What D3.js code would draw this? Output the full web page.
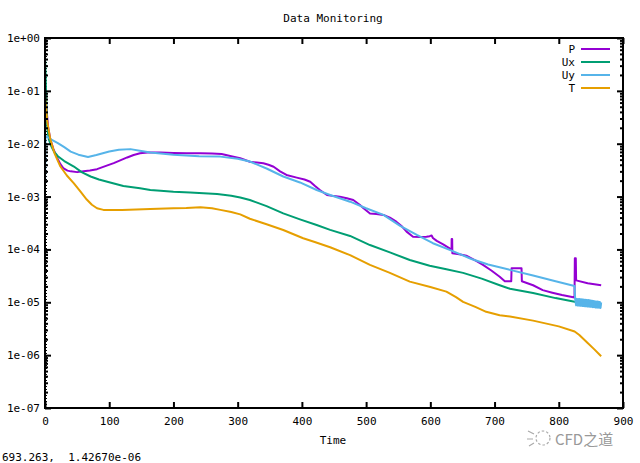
<!DOCTYPE html>
<html>
<head>
<meta charset="utf-8">
<script src="https://cdn.jsdelivr.net/npm/d3@7"></script>
<style>
html,body{margin:0;padding:0;background:#fff;}
svg{display:block;}
text{font-family:"DejaVu Sans Mono","Liberation Mono",monospace;font-size:11px;fill:#000;white-space:pre;}
</style>
</head>
<body>
<svg id="chart" width="640" height="463"></svg>
<script>
// ---------------- data ----------------
const chartTitle = "Data Monitoring";
const xLabel = "Time";
const statusText = "693.263,  1.42670e-06";
const seriesNames = ["P", "Ux", "Uy", "T"];
const seriesColors = ["#9400d3", "#009e73", "#56b4e9", "#e69f00"];
const xTicks = [0, 100, 200, 300, 400, 500, 600, 700, 800, 900];
const yTicks = [1e-7, 1e-6, 1e-5, 1e-4, 1e-3, 1e-2, 1e-1, 1];
const yTickLabels = ["1e-07", "1e-06", "1e-05", "1e-04", "1e-03", "1e-02", "1e-01", "1e+00"];

const pData = [[0,0.12],[2,0.05],[5,0.02],[8.5,0.0118],[13,0.008],[19,0.0054],[24,0.0041],[29,0.0034],[35,0.0031],[40,0.0030],[50,0.0029],[60,0.0030],[70,0.0031],[81,0.0033],[95,0.0038],[107,0.0043],[118,0.0049],[128,0.0055],[138,0.0061],[148,0.0066],[160,0.0068],[180,0.0068],[200,0.0067],[220,0.0066],[242,0.0066],[260,0.0065],[275,0.0064],[290,0.0058],[304,0.0053],[319,0.00457],[330,0.0044],[340,0.00426],[348,0.0040],[356,0.00367],[366,0.0030],[376,0.00256],[392,0.00228],[404,0.0021],[413,0.00191],[420,0.0016],[428,0.00133],[439,0.00107],[450,0.00102],[459,0.00099],[470,0.00093],[480,0.00086],[490,0.0007],[496,0.0006],[506,0.00048],[516,0.00047],[527,0.00045],[537,0.0004],[547,0.000335],[556,0.00027],[563,0.000217],[573,0.000174],[585,0.000172],[594,0.000174],[599,0.000178],[602,0.000184],[604,0.000165],[610,0.000145],[620,0.000125],[630,0.000105],[633,0.0001],[633.2,0.000158],[634,0.000158],[634.3,0.000085],[645,0.000081],[656,0.000076],[664,0.000068],[672,0.00006],[682,0.000051],[695,0.00004],[708,0.0000305],[716,0.000025],[726,0.000025],[726.5,0.000044],[742,0.000044],[742.5,0.000025],[760,0.000021],[775,0.000017],[790,0.0000152],[805,0.0000137],[824.5,0.0000123],[825,0.000068],[826.5,0.000068],[827,0.000026],[845,0.000023],[866,0.000021]];

const uxData = [[0,0.45],[1,0.2],[2,0.06],[3.5,0.02],[6,0.012],[10,0.0088],[14,0.0071],[20,0.0058],[30,0.0047],[45,0.0037],[57,0.0029],[71,0.0024],[84,0.0021],[97,0.0019],[122,0.00158],[148,0.00143],[164,0.00133],[180,0.00129],[200,0.00124],[226,0.0012],[268,0.00112],[290,0.00104],[304,0.00096],[319,0.00086],[345,0.00066],[371,0.00048],[397,0.00037],[423,0.00029],[444,0.000234],[475,0.00018],[506,0.000121],[537,0.000088],[568,0.000063],[599,0.000049],[625,0.000042],[651,0.000036],[680,0.000028],[708,0.000021],[724,0.000018],[760,0.000015],[795,0.000012],[824.7,0.0000102],[845,0.0000095],[866,0.0000088]];

const uyData = [[0,0.0015],[0.8,0.014],[4,0.0134],[10,0.012],[20,0.0103],[30,0.0086],[40,0.0071],[52,0.0062],[67,0.0056],[80,0.0061],[100,0.0071],[115,0.0077],[133,0.0079],[150,0.0073],[164,0.0068],[200,0.0062],[240,0.0058],[273,0.0057],[300,0.0052],[319,0.0046],[345,0.0034],[371,0.0024],[397,0.00185],[423,0.00133],[444,0.00107],[475,0.0008],[500,0.0006],[527,0.00045],[553,0.00028],[579,0.000188],[604,0.000131],[635,0.000093],[664,0.000066],[690,0.000052],[724,0.000041],[760,0.000032],[795,0.000025],[824.5,0.0000204],[825.5,0.0000115],
[827,0.0000088],[828,0.0000116],[829,0.0000087],[830,0.0000115],[831,0.0000087],[832,0.0000115],[833,0.0000086],[834,0.0000114],[835,0.0000086],[836,0.0000114],[837,0.0000085],[838,0.0000113],[839,0.0000085],[840,0.0000112],[841,0.0000084],[842,0.0000112],[843,0.0000084],[844,0.0000111],[845,0.0000083],[846,0.0000110],[847,0.0000083],[848,0.0000109],[849,0.0000082],[850,0.0000108],[851,0.0000082],[852,0.0000107],[853,0.0000081],[854,0.0000106],[855,0.0000081],[856,0.0000105],[857,0.0000080],[858,0.0000104],[859,0.0000080],[860,0.0000103],[861,0.0000079],[862,0.0000102],[863,0.0000079],[864,0.0000101],[865,0.0000078],[866,0.0000100]];

const tData = [[0,0.08],[1,0.06],[3,0.03],[5,0.02],[8.5,0.0118],[15,0.0065],[24,0.0037],[34,0.0025],[45,0.00178],[55,0.00125],[65,0.00088],[73,0.0007],[81,0.0006],[91,0.00056],[120,0.00056],[164,0.00058],[200,0.0006],[220,0.00061],[242,0.00063],[260,0.0006],[273,0.00056],[290,0.00051],[304,0.00046],[319,0.00038],[345,0.0003],[371,0.000233],[402,0.000163],[420,0.000138],[444,0.00011],[475,0.000078],[506,0.000051],[537,0.000036],[568,0.0000246],[600,0.0000195],[625,0.0000159],[640,0.0000125],[651,0.0000102],[670,0.0000082],[687,0.0000066],[708,0.0000057],[724,0.0000054],[760,0.0000045],[800,0.0000035],[824.7,0.0000028],[832,0.0000024],[845,0.0000017],[855,0.0000013],[866,0.00000095]];

const allSeries = [pData, uxData, uyData, tData];

// ---------------- layout ----------------
const svg = d3.select("#chart");
const L = 45, R = 623, T = 38, B = 408;
const x = d3.scaleLinear().domain([0, 900]).range([L, R]);
const y = d3.scaleLog().domain([1e-7, 1]).range([B, T]);

// title
svg.append("text").attr("x", 333).attr("y", 22).attr("text-anchor", "middle").text(chartTitle);

// dotted zero axis
svg.append("line").attr("x1", x(0) + 1.5).attr("x2", x(0) + 1.5).attr("y1", T).attr("y2", B)
  .attr("stroke", "#000").attr("stroke-width", 1).attr("stroke-dasharray", "1,2");

// lines
svg.append("clipPath").attr("id", "clip").append("rect")
  .attr("x", L).attr("y", T).attr("width", R - L).attr("height", B - T);
const line = d3.line().x(d => x(d[0])).y(d => y(d[1]));
const g = svg.append("g").attr("clip-path", "url(#clip)");
allSeries.forEach((s, i) => {
  g.append("path").datum(s).attr("d", line).attr("fill", "none")
    .attr("stroke", seriesColors[i]).attr("stroke-width", 2).attr("stroke-linejoin", "round");
});

// axes (inward ticks)
const fmtY = d => yTickLabels[yTicks.indexOf(d)] || "";
const minorY = [];
for (let e = -7; e < 0; e++) for (let m = 2; m <= 9; m++) minorY.push(m * Math.pow(10, e));

const axB = svg.append("g").attr("transform", `translate(0,${B})`)
  .call(d3.axisBottom(x).tickValues(xTicks).tickSize(-6).tickPadding(9).tickFormat(d3.format("d")));
const axT = svg.append("g").attr("transform", `translate(0,${T})`)
  .call(d3.axisTop(x).tickValues(xTicks).tickSize(-6).tickFormat(""));
const axL = svg.append("g").attr("transform", `translate(${L},0)`)
  .call(d3.axisLeft(y).tickValues(yTicks).tickSize(-6).tickPadding(5).tickFormat(fmtY));
const axLm = svg.append("g").attr("transform", `translate(${L},0)`)
  .call(d3.axisLeft(y).tickValues(minorY).tickSize(-3).tickFormat(""));
const axR = svg.append("g").attr("transform", `translate(${R},0)`)
  .call(d3.axisRight(y).tickValues(yTicks).tickSize(-6).tickFormat(""));
const axRm = svg.append("g").attr("transform", `translate(${R},0)`)
  .call(d3.axisRight(y).tickValues(minorY).tickSize(-3).tickFormat(""));
[axB, axT, axL, axLm, axR, axRm].forEach(a => {
  a.select(".domain").remove();
  a.selectAll("line").attr("stroke", "#000").attr("stroke-width", 2);
  a.selectAll("text").style("font-family", "DejaVu Sans Mono").style("font-size", "11px").style("fill", "#000");
});
axL.selectAll("text").attr("x", -5);

// border
svg.append("rect").attr("x", L).attr("y", T).attr("width", R - L).attr("height", B - T)
  .attr("fill", "none").attr("stroke", "#000").attr("stroke-width", 2);

// x label
svg.append("text").attr("x", 333).attr("y", 444).attr("text-anchor", "middle").text(xLabel);

// legend
const leg = svg.append("g");
seriesNames.forEach((n, i) => {
  const yy = 49 + i * 13;
  leg.append("text").attr("x", 575).attr("y", yy + 4).attr("text-anchor", "end").text(n);
  leg.append("line").attr("x1", 581).attr("x2", 610).attr("y1", yy).attr("y2", yy)
    .attr("stroke", seriesColors[i]).attr("stroke-width", 2);
});

// status text
svg.append("text").attr("x", 2).attr("y", 461).attr("xml:space", "preserve").text(statusText);

// watermark
const wm = svg.append("g");
wm.append("circle").attr("cx", 543).attr("cy", 438).attr("r", 7).attr("fill", "none")
  .attr("stroke", "#aaa").attr("stroke-width", 1.2).attr("stroke-dasharray", "2.5,2");
wm.append("path").attr("d", "M528,431 l6,3 M527,439 l6,0 M529,446 l5,-3").attr("stroke", "#aaa").attr("stroke-width", 1.2);
wm.append("text").attr("x", 555).attr("y", 445)
  .style("font-family", "'Noto Sans CJK SC', sans-serif").style("font-size", "15px").style("fill", "#999")
  .text("CFD之道");
</script>
</body>
</html>
